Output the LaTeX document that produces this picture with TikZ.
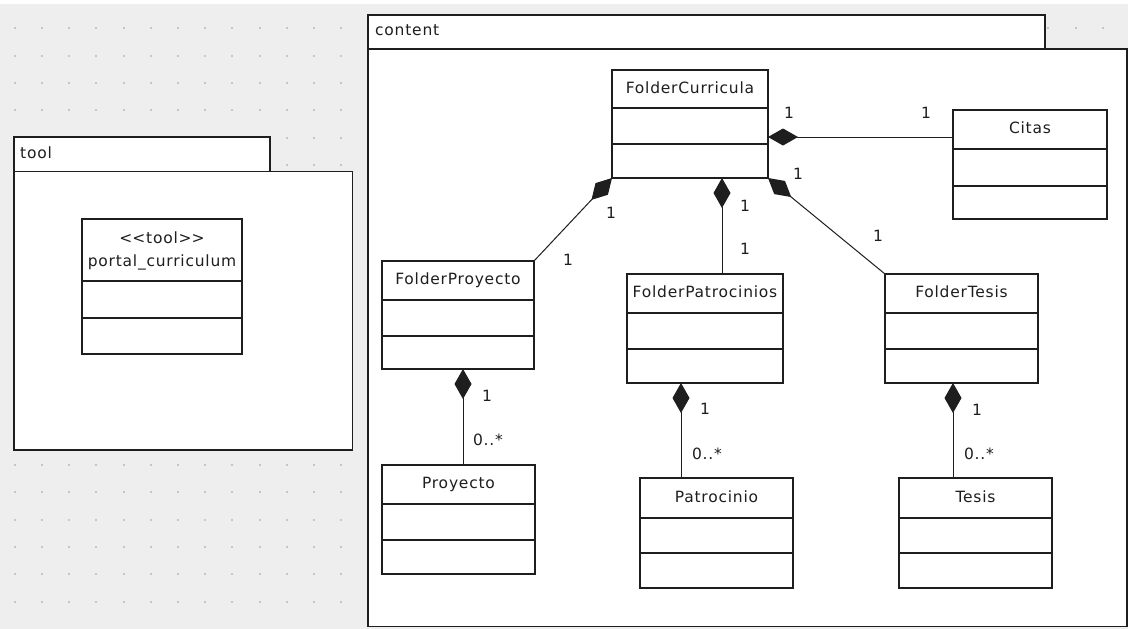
\documentclass[tikz,border=0pt]{standalone}
\usepackage{fontspec}
\newfontfamily\umlf[LetterSpace=5]{DejaVu Sans}
\usetikzlibrary{arrows.meta,calc}
\definecolor{bg}{HTML}{EEEEEE}
\definecolor{dotc}{HTML}{C6C6C6}
\definecolor{ink}{HTML}{1E1E1E}
\tikzset{
  boxline/.style={draw=ink, line width=1.4pt},
  classbox/.style={boxline, fill=white, rectangle, inner sep=0pt, outer sep=0pt},
  pkgbox/.style={boxline, fill=white},
  umltext/.style={font=\umlf\fontsize{15.5}{18}\selectfont, text=ink, inner sep=0pt, text height=11pt, text depth=3pt},
  classname/.style={umltext},
  mult/.style={umltext},
  conn/.style={draw=ink, line width=1pt},
  comp/.style={conn, {Diamond[length=30pt,width=17pt]}-},
}
\newcommand\umlclass[8]{%
  \node[classbox, minimum width={(#4-#2)*1pt}, minimum height={(#5-#3)*1pt}, anchor=north west] (#1) at (#2,#3) {};
  \draw[boxline] (#1.west |- 0,#6) -- (#1.east |- 0,#6);
  \draw[boxline] (#1.west |- 0,#7) -- (#1.east |- 0,#7);
  \node[classname] (#1-n) at ({(#2+#4)/2},{(#3+#6)/2}) {#8};
}
\begin{document}
\begin{tikzpicture}[x=1pt,y=-1pt]
\useasboundingbox (0,0) rectangle (1128,629);
% background
\fill[white] (0,0) rectangle (1128,4);
\fill[bg] (0,4) rectangle (1128,629);
\foreach \i in {0,...,41}{
  \foreach \j in {0,...,21}{
    \fill[dotc] ({14.8+27.2*\i-1},{28.3+27.3*\j-1}) rectangle ++(2,2);
  }
}
% package tool
\draw[pkgbox] (14,137) rectangle (270,171.5);
\draw[pkgbox] (14,171.5) rectangle (352.5,450);
\node[umltext, anchor=west] (tooltxt) at (20,154) {tool};
% package content
\draw[pkgbox] (368,15) rectangle (1045,49);
\draw[pkgbox] (368,49) rectangle (1127,626.5);
\node[umltext, anchor=west] (contenttxt) at (375,31) {content};

% classes
\node[classbox, minimum width=160pt, minimum height=135pt, anchor=north west] (pc) at (82,219) {};
\draw[boxline] (pc.west |- 0,281) -- (pc.east |- 0,281);
\draw[boxline] (pc.west |- 0,318) -- (pc.east |- 0,318);
\node[umltext, align=center, text height=, text depth=, font=\umlf\fontsize{15.5}{23}\selectfont] (pc-n) at (162,251) {<\kern0pt<tool>\kern0pt>\\portal\_curriculum};

\umlclass{fc}{612}{70}{768}{178}{108}{144}{FolderCurricula}
\umlclass{ci}{953}{110}{1107}{219}{149}{186}{Citas}
\umlclass{fp}{382}{261}{534}{369}{300}{336}{FolderProyecto}
\umlclass{fpa}{627}{274}{783}{383}{313}{349}{FolderPatrocinios}
\umlclass{ft}{885}{274}{1038}{383}{313}{349}{FolderTesis}
\umlclass{pr}{382}{465}{535}{574}{504}{540}{Proyecto}
\umlclass{pa}{640}{478}{793}{588}{518}{553}{Patrocinio}
\umlclass{te}{899}{478}{1052}{588}{518}{553}{Tesis}

% compositions
\draw[comp] (fc.east |- 0,137) -- (ci.west |- 0,137);
\draw[comp] (fc.south west) -- (fp.north east);
\draw[comp] (fc.south -| 722,0) -- (fpa.north -| 722,0);
\draw[comp] (fc.south east) -- (ft.north west);
\draw[comp] (fp.south -| 463,0) -- (pr.north -| 463,0);
\draw[comp] (fpa.south -| 681,0) -- (pa.north -| 681,0);
\draw[comp] (ft.south -| 953,0) -- (te.north -| 953,0);

% multiplicities
\node[mult] (m1) at (789,114) {1};
\node[mult] (m2) at (926,114) {1};
\node[mult] (m3) at (611,214) {1};
\node[mult] (m4) at (568,261) {1};
\node[mult] (m5) at (745,207) {1};
\node[mult] (m6) at (745,250) {1};
\node[mult] (m7) at (798,175) {1};
\node[mult] (m8) at (878,237) {1};
\node[mult] (m9) at (487,397) {1};
\node[mult] (m10) at (488,441) {0..*};
\node[mult] (m11) at (705,410) {1};
\node[mult] (m12) at (707,455) {0..*};
\node[mult] (m13) at (977,411) {1};
\node[mult] (m14) at (979,455) {0..*};
\end{tikzpicture}
\end{document}
